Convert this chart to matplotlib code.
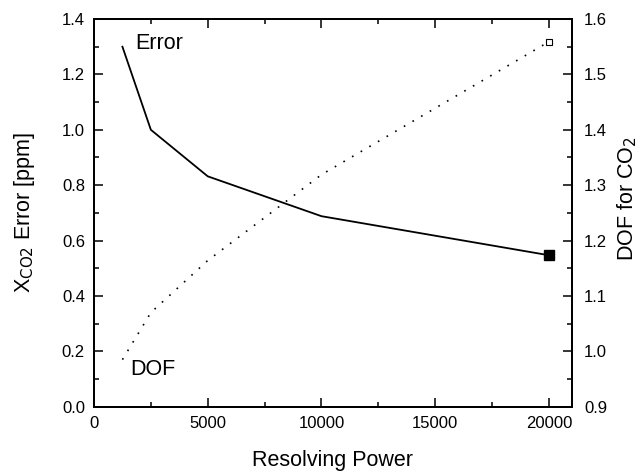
import matplotlib.pyplot as plt
from matplotlib.ticker import MultipleLocator, FormatStrFormatter

plt.rcParams['font.family'] = ['Liberation Sans', 'DejaVu Sans']

# valeurs
resolving_power = [1250, 2500, 5000, 10000, 20000]
xco2_error = [1.30, 1.00, 0.832, 0.688, 0.547]
dof_co2 = [0.985, 1.07, 1.164, 1.319, 1.559]

fig = plt.figure(figsize=(6.42, 4.72), dpi=100)
ax = fig.add_axes([0.1464, 0.1383, 0.7441, 0.8214])

# courbe de l'erreur (axe gauche)
ax.plot(resolving_power, xco2_error, color='black', lw=1.3)
ax.plot(resolving_power[-1], xco2_error[-1], 's', color='black', ms=7.2)
ax.set_xlim(0, 21000)
ax.set_ylim(0.0, 1.4)
ax.xaxis.set_major_locator(MultipleLocator(5000))
ax.xaxis.set_minor_locator(MultipleLocator(2500))
ax.yaxis.set_major_locator(MultipleLocator(0.2))
ax.yaxis.set_minor_locator(MultipleLocator(0.1))
ax.yaxis.set_major_formatter(FormatStrFormatter('%.1f'))
ax.tick_params(which='both', direction='in', top=True, labelsize=12)
ax.tick_params(which='major', length=6.5, width=1.1)
ax.tick_params(which='minor', length=3.6, width=1.1)
ax.tick_params(axis='x', which='both', pad=7)
ax.tick_params(axis='y', which='both', pad=6.5)
ax.set_xlabel('Resolving Power', fontsize=15.5, labelpad=13)
ax.set_ylabel('X$_{\\mathrm{CO2}}$ Error [ppm]', fontsize=15.5, labelpad=18)

# courbe des DOF (axe droit)
ax2 = ax.twinx()
ax2.plot(resolving_power, dof_co2, color='black', lw=1.2, linestyle=(0, (1, 5)))
ax2.plot(resolving_power[-1], dof_co2[-1], 's', mfc='white', mec='black', ms=5, mew=0.8)
ax2.set_ylim(0.9, 1.6)
ax2.yaxis.set_major_locator(MultipleLocator(0.1))
ax2.yaxis.set_minor_locator(MultipleLocator(0.05))
ax2.yaxis.set_major_formatter(FormatStrFormatter('%.1f'))
ax2.tick_params(which='both', direction='in', labelsize=12, pad=9)
ax2.tick_params(which='major', length=6.5, width=1.1)
ax2.tick_params(which='minor', length=3.6, width=1.1)
ax2.set_ylabel('DOF for CO$_2$', fontsize=15.5, labelpad=6)
ax2.yaxis.label.set_y(0.536)

for a in (ax, ax2):
    for s in a.spines.values():
        s.set_linewidth(1.4)

ax.text(1800, 1.312, 'Error', fontsize=15.5, va='center')
ax.text(1580, 0.136, 'DOF', fontsize=15.5, va='center')

plt.savefig('out.png', dpi=100)
